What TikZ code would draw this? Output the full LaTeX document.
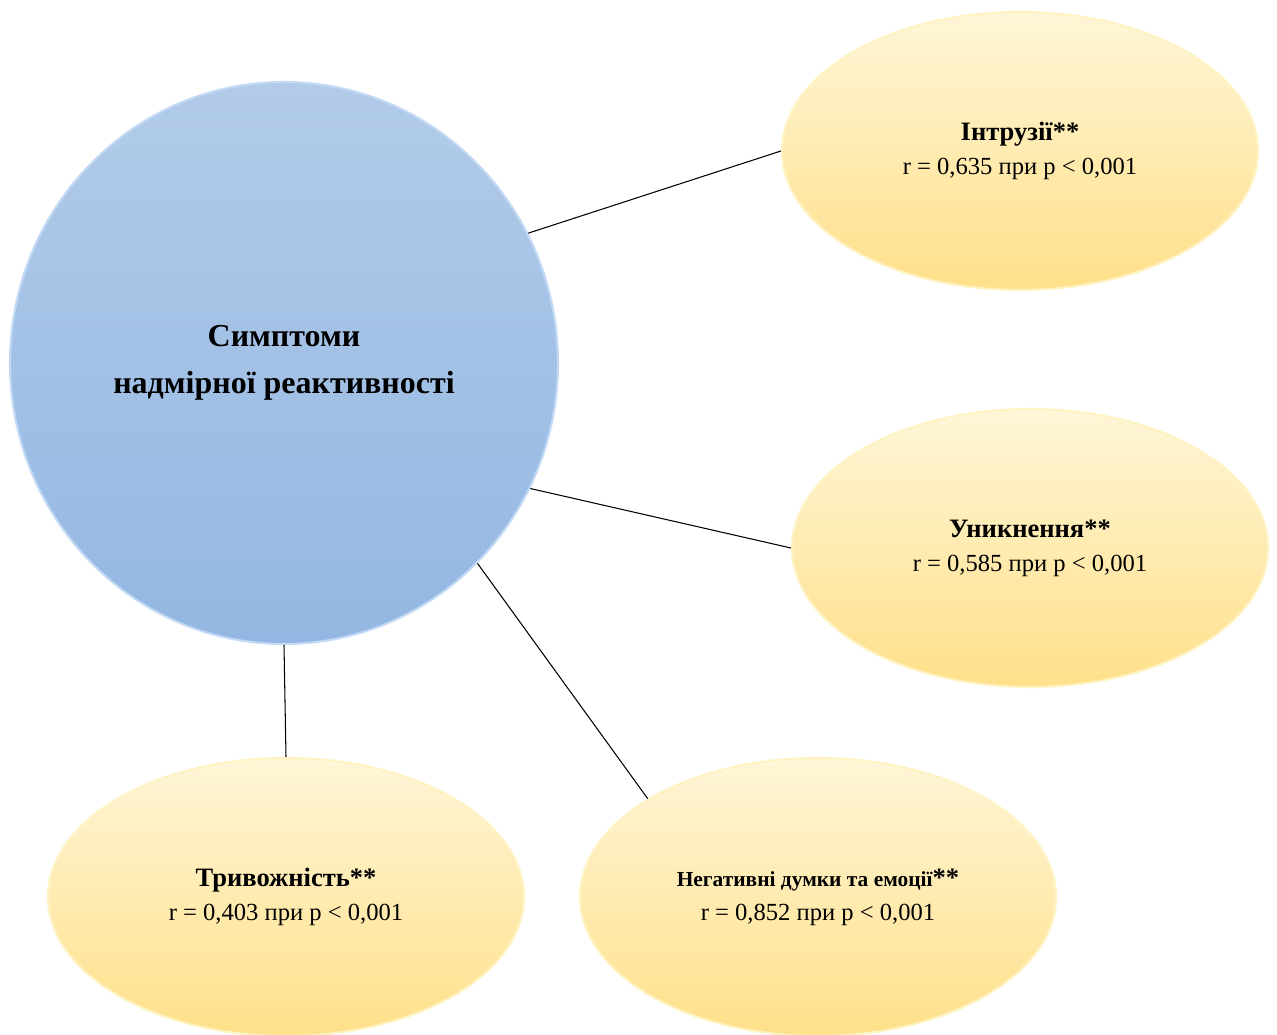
\documentclass[tikz,border=0pt]{standalone}
\usepackage{fontspec}
\setmainfont{Liberation Serif}
\usetikzlibrary{shapes.geometric}
\definecolor{hubtop}{HTML}{B2CBE9}
\definecolor{hubbot}{HTML}{93B7E2}
\definecolor{hubrim}{HTML}{C4DAF4}
\definecolor{leaftop}{HTML}{FFF6D8}
\definecolor{leafbot}{HTML}{FFE08A}
\definecolor{leafrim}{HTML}{FFF3C4}
\newcommand{\rline}[1]{{\fontsize{14}{19.3}\selectfont r = #1 при p < 0,001}}
\begin{document}
\begin{tikzpicture}[
    hub/.style={ellipse, inner sep=0pt, minimum width=10.96cm, minimum height=11.24cm,
      top color=hubtop, bottom color=hubbot, draw=hubrim, line width=1.2pt,
      align=center, font=\fontsize{18.2}{26.6}\selectfont\bfseries},
    leaf/.style={ellipse, inner sep=0pt, minimum width=9.52cm, minimum height=5.56cm,
      top color=leaftop, bottom color=leafbot, draw=leafrim, line width=1.2pt,
      align=center, font=\fontsize{15.1}{19.3}\selectfont},
    link/.style={draw=black, line width=0.6pt}]
  \useasboundingbox (0,0) rectangle (25.54,-20.7);
  \node[hub] (hub) at (5.68,-7.26) {Симптоми\\надмірної реактивності};
  \node[leaf] (intr) at (20.4,-3.02) {\textbf{Інтрузії**}\\\rline{0,635}};
  \node[leaf] (avoid) at (20.6,-10.96) {\textbf{Уникнення**}\\\rline{0,585}};
  \node[leaf] (anx) at (5.72,-17.94) {\textbf{Тривожність**}\\\rline{0,403}};
  \node[leaf] (neg) at (16.36,-17.94)
    {{\fontsize{12.2}{19.3}\selectfont\bfseries Негативні думки та емоції}\textbf{**}\\\rline{0,852}};
  % connectors
  \draw[link] (hub.28) -- (intr.west);
  \draw[link] (hub.-27) -- (avoid.west);
  \draw[link] (hub.-46) -- (neg.150);
  \draw[link] (hub.south) -- (anx.north);
\end{tikzpicture}
\end{document}
